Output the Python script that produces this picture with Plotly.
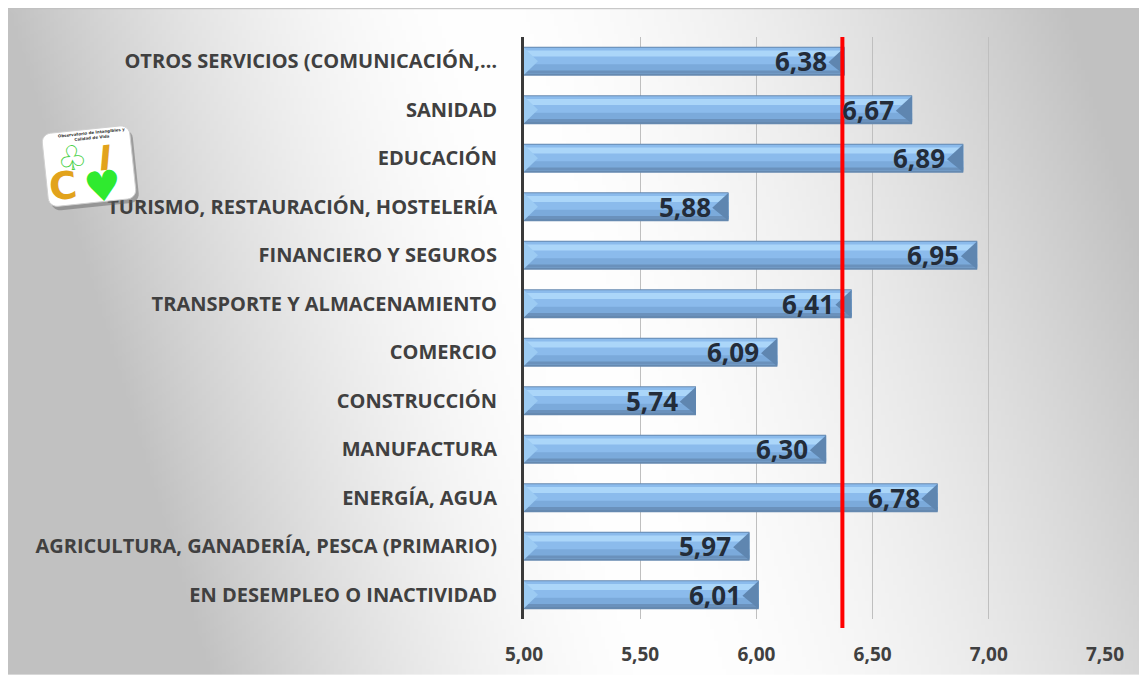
"""
Bar chart - puntuación media por sector de actividad
"""
import base64
import math
import struct
import zlib

import plotly.graph_objects as go

# Datos (de arriba a abajo, como en el gráfico)
categories = [
    "OTROS SERVICIOS (COMUNICACIÓN,…",
    "SANIDAD",
    "EDUCACIÓN",
    "TURISMO, RESTAURACIÓN, HOSTELERÍA",
    "FINANCIERO Y SEGUROS",
    "TRANSPORTE Y ALMACENAMIENTO",
    "COMERCIO",
    "CONSTRUCCIÓN",
    "MANUFACTURA",
    "ENERGÍA, AGUA",
    "AGRICULTURA, GANADERÍA, PESCA (PRIMARIO)",
    "EN DESEMPLEO O INACTIVIDAD",
]
values = [6.38, 6.67, 6.89, 5.88, 6.95, 6.41, 6.09, 5.74, 6.30, 6.78, 5.97, 6.01]
average_value = 6.37
tick_values = [5.0, 5.5, 6.0, 6.5, 7.0, 7.5]
axis_min, axis_max = 5.0, 7.5

# Geometría (en píxeles de pantalla; la página tiene 8 px de margen)
OFF = 8
SCREEN_W, SCREEN_H = 1147, 679
W, H = SCREEN_W - OFF, SCREEN_H - OFF
PLOT_L, PLOT_R, PLOT_T, PLOT_B = 524, 1105, 37, 623

TEXT_FONT = "Open Sans"


def px2paper(px, py):
    """Screen pixel position -> paper coordinates"""
    return ((px - PLOT_L) / (PLOT_R - PLOT_L), (PLOT_B - py) / (PLOT_B - PLOT_T))


def gradient_png(w, h, scale):
    """Small grayscale PNG with the light diagonal gradient of the chart area"""
    rows = []
    for j in range(h):
        y = j * scale + OFF
        row = bytearray([0])
        for i in range(w):
            x = i * scale + OFF
            xc = 470 + 0.3 * y
            d = abs(x - xc) / (470 if x < xc else 600)
            v = 255 - 62 * min(d, 1.0) ** 1.7
            row.append(int(v))
        rows.append(bytes(row))
    raw = b"".join(rows)

    def chunk(tag, data):
        return (struct.pack(">I", len(data)) + tag + data
                + struct.pack(">I", zlib.crc32(tag + data) & 0xffffffff))

    png = (b"\x89PNG\r\n\x1a\n"
           + chunk(b"IHDR", struct.pack(">IIBBBBB", w, h, 8, 0, 0, 0, 0))
           + chunk(b"IDAT", zlib.compress(raw, 9))
           + chunk(b"IEND", b""))
    return "data:image/png;base64," + base64.b64encode(png).decode()


def card_path(cx, cy, w, h, r, angle_deg, dx=0, dy=0):
    """Rotated rounded rectangle as an SVG path in paper coordinates"""
    a = math.radians(angle_deg)
    pts = []
    corners = [(w / 2 - r, -h / 2 + r, -90), (w / 2 - r, h / 2 - r, 0),
               (-w / 2 + r, h / 2 - r, 90), (-w / 2 + r, -h / 2 + r, 180)]
    for ccx, ccy, start in corners:
        for k in range(7):
            t = math.radians(start + 15 * k)
            px = ccx + r * math.cos(t)
            py = ccy + r * math.sin(t)
            rx = px * math.cos(a) - py * math.sin(a)
            ry = px * math.sin(a) + py * math.cos(a)
            pts.append(px2paper(cx + rx + dx, cy + ry + dy))
    return "M " + " L ".join(f"{x:.5f},{y:.5f}" for x, y in pts) + " Z"


fig = go.Figure()

# Barras "cilíndricas": varias capas superpuestas
layers = [
    dict(offset=-0.30, width=0.60, color="#6589B0"),
    dict(offset=-0.28, width=0.53, color="#8BBBEC"),
    dict(offset=-0.22, width=0.12, color="#ABD6F9"),
    dict(offset=0.06, width=0.15, color="#7BAADB"),
    dict(offset=0.19, width=0.06, color="#6A91BC"),
]
for lay in layers:
    fig.add_trace(go.Bar(
        x=values,
        y=categories,
        orientation="h",
        offset=lay["offset"],
        width=lay["width"],
        marker=dict(color=lay["color"], line=dict(width=0)),
        hoverinfo="skip",
        showlegend=False,
    ))

shapes = []
# biseles en los extremos de cada barra
for i, val in enumerate(values):
    shapes.append(dict(
        type="path", xref="x", yref="y",
        path=f"M {val},{i - 0.29} L {val},{i + 0.29} L {val - 0.07},{i + 0.02} Z",
        fillcolor="#5F86B0", line=dict(width=0), layer="above",
    ))
    shapes.append(dict(
        type="path", xref="x", yref="y",
        path=f"M {axis_min},{i - 0.28} L {axis_min},{i + 0.28} L {axis_min + 0.06},{i} Z",
        fillcolor="#9CCBF3", line=dict(width=0), layer="above",
    ))

# Etiquetas de valor
annotations = []
for cat, val in zip(categories, values):
    annotations.append(dict(
        x=val, y=cat, xref="x", yref="y",
        text=f"{val:.2f}".replace(".", ","),
        showarrow=False, xanchor="right", xshift=-16, yshift=0,
        font=dict(family=TEXT_FONT, size=26, color="#232C39", weight="bold"),
    ))

# Logo (aproximado)
shapes.append(dict(type="path", xref="paper", yref="paper",
                   path=card_path(89, 167, 88, 74, 9, -6, 3, 4),
                   fillcolor="rgba(90,90,90,0.45)", line=dict(width=0), layer="above"))
shapes.append(dict(type="path", xref="paper", yref="paper",
                   path=card_path(89, 167, 88, 74, 9, -6),
                   fillcolor="white", line=dict(color="#D0D0D0", width=1), layer="above"))
logo_items = [
    ("Observatorio de Intangibles y<br>Calidad de Vida", 92, 136, 4, "#333333", False),
    ("♧", 72, 159, 34, "#46D046", False),
    ("I", 105, 159, 34, "#E2A31C", True),
    ("C", 63, 187, 38, "#E2A31C", False),
    ("♥", 103, 188, 42, "#2FEA2F", False),
]
for txt, px, py, size, col, italic in logo_items:
    ax, ay = px2paper(px, py)
    annotations.append(dict(
        x=ax, y=ay, xref="paper", yref="paper", text=txt, showarrow=False,
        xanchor="center", yanchor="middle", textangle=-6,
        font=dict(family="DejaVu Sans", size=size, color=col, weight="bold",
                  style="italic" if italic else "normal"),
    ))

# línea de la media
shapes.append(dict(
    type="line", xref="x", yref="paper", x0=average_value, x1=average_value,
    y0=px2paper(0, 632)[1], y1=1.0, line=dict(color="#FF0000", width=4), layer="above",
))
# borde superior del área del gráfico
shapes.append(dict(
    type="line", xref="paper", yref="paper",
    x0=px2paper(OFF, 0)[0], x1=px2paper(SCREEN_W, 0)[0],
    y0=px2paper(0, OFF + 0.5)[1], y1=px2paper(0, OFF + 0.5)[1],
    line=dict(color="#BDBDBD", width=1), layer="below",
))

bx0, by0 = px2paper(OFF, OFF)
bx1, by1 = px2paper(SCREEN_W, SCREEN_H)
fig.add_layout_image(dict(
    source=gradient_png(285, 168, 4),
    xref="paper", yref="paper", x=bx0, y=by0,
    sizex=bx1 - bx0, sizey=by0 - by1,
    xanchor="left", yanchor="top", sizing="stretch", layer="below",
))

fig.update_layout(
    width=W,
    height=H,
    margin=dict(l=PLOT_L - OFF, r=SCREEN_W - PLOT_R, t=PLOT_T - OFF,
                b=SCREEN_H - PLOT_B, pad=0),
    barmode="overlay",
    paper_bgcolor="white",
    plot_bgcolor="rgba(0,0,0,0)",
    separators=",.",
    showlegend=False,
    annotations=annotations,
    shapes=shapes,
    font=dict(family=TEXT_FONT, color="#404040"),
    xaxis=dict(
        range=[axis_min, axis_max],
        tickvals=tick_values,
        tickformat=".2f",
        showgrid=True,
        gridcolor="#BFBFBF",
        gridwidth=1,
        zeroline=False,
        showline=False,
        ticks="",
        ticklabelstandoff=22,
        tickfont=dict(family=TEXT_FONT, size=19, color="#404040", weight="bold"),
    ),
    yaxis=dict(
        autorange="reversed",
        showgrid=False,
        showline=True,
        linecolor="#3A3A3A",
        linewidth=3,
        ticks="",
        ticklabelstandoff=20,
        tickfont=dict(family=TEXT_FONT, size=20, color="#404040", weight="bold"),
    ),
)

fig.write_html("out.html")
